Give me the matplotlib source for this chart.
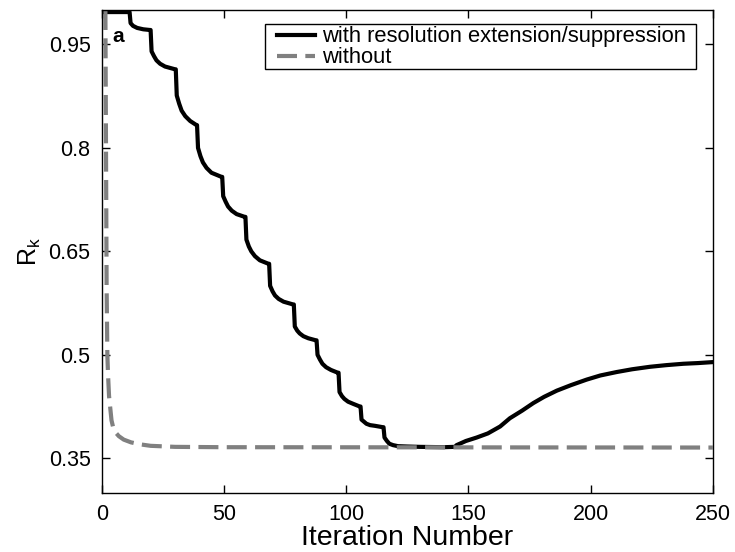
import numpy as np
import matplotlib
matplotlib.use('Agg')
from matplotlib import pyplot as plt
from matplotlib.patches import Rectangle

# black curve: with resolution extension/suppression
iter_with = [0, 11.4, 11.8, 12.8, 14.5, 17.0, 19.7,
             20.0, 20.4, 21.4, 22.4, 23.9, 25.9, 30.0,
             30.3, 30.7, 31.7, 32.7, 34.2, 36.2, 38.8,
             39.0, 39.4, 40.4, 41.4, 42.9, 44.9, 49.0,
             49.3, 49.7, 50.7, 51.7, 53.2, 55.2, 58.5,
             58.8, 59.2, 60.2, 61.2, 62.7, 64.7, 68.2,
             68.5, 68.9, 69.9, 70.9, 72.4, 74.4, 78.3,
             78.6, 79.0, 80.0, 81.0, 82.5, 84.5, 87.6,
             87.9, 88.3, 89.3, 90.3, 91.8, 93.8, 96.6,
             96.9, 97.3, 98.3, 99.3, 100.8, 102.8, 105.6,
             105.9, 106.3, 107.3, 108.3, 109.8, 111.8, 115.0,
             115.3, 115.7, 116.7, 117.7, 119.2, 121.2, 125.0, 130.0, 140.0, 144.5,
             145.2, 149.0, 153.4, 158.0, 163.0, 167.0, 172.0, 176.6, 181.0,
             186.2, 192.0, 198.4, 204.0, 210.7, 217.0, 224.3, 231.0, 238.0,
             244.0, 250.0]
r_with = [0.997, 0.997, 0.981, 0.977, 0.974, 0.972, 0.971,
          0.971, 0.940, 0.933, 0.927, 0.922, 0.918, 0.914,
          0.914, 0.876, 0.864, 0.854, 0.846, 0.839, 0.833,
          0.833, 0.800, 0.788, 0.779, 0.771, 0.764, 0.758,
          0.758, 0.730, 0.722, 0.715, 0.709, 0.704, 0.700,
          0.700, 0.667, 0.657, 0.650, 0.643, 0.637, 0.632,
          0.632, 0.600, 0.592, 0.586, 0.581, 0.577, 0.573,
          0.573, 0.541, 0.535, 0.531, 0.527, 0.524, 0.521,
          0.521, 0.500, 0.493, 0.487, 0.482, 0.478, 0.474,
          0.474, 0.446, 0.440, 0.436, 0.432, 0.429, 0.425,
          0.425, 0.406, 0.403, 0.400, 0.398, 0.397, 0.395,
          0.395, 0.380, 0.375, 0.371, 0.369, 0.3675, 0.367, 0.3665, 0.366, 0.3665,
          0.369, 0.375, 0.380, 0.386, 0.396, 0.408, 0.419, 0.430, 0.439,
          0.448, 0.456, 0.464, 0.470, 0.475, 0.479, 0.4826, 0.485, 0.487,
          0.488, 0.4894]

# grey dashed curve: without
iter_without = [1.5, 2.0, 2.3, 2.6, 3.0, 4.0, 5.0, 7.0, 9.0, 12.0, 16.0, 20.0, 30.0, 50.0, 250.0]
r_without = [1.0, 0.60, 0.50, 0.47, 0.44, 0.405, 0.39, 0.382, 0.377, 0.373, 0.370, 0.368, 0.3665, 0.366, 0.3655]

xticks = [0, 50, 100, 150, 200, 250]
yticks = [0.35, 0.5, 0.65, 0.8, 0.95]
ytick_labels = ['0.35', '0.5', '0.65', '0.8', '0.95']

plt.rcParams['font.family'] = ['Liberation Sans', 'DejaVu Sans']
plt.rcParams['mathtext.fontset'] = 'custom'
plt.rcParams['mathtext.rm'] = 'Liberation Sans'
plt.rcParams['mathtext.it'] = 'Liberation Sans'

fig = plt.figure(figsize=(7.35, 5.52), dpi=100)
ax = fig.add_axes([0.1384, 0.1074, 0.8313, 0.8745])

ax.plot(iter_with, r_with, color='black', lw=3, solid_joinstyle='round',
        label='with resolution extension/suppression')
ax.plot(iter_without, r_without, color='#808080', lw=3, dashes=(4.8, 2.0),
        label='without')

ax.set_xlim(0, 250)
ax.set_ylim(0.3, 1.0)
ax.set_xticks(xticks)
ax.set_yticks(yticks)
ax.set_yticklabels(ytick_labels)
ax.tick_params(direction='in', top=True, right=True, length=6, width=1,
               labelsize=15.5, pad=8)
for s in ax.spines.values():
    s.set_linewidth(1)

ax.set_xlabel('Iteration Number', fontsize=20.5, labelpad=0)
ax.set_ylabel(r'$\mathregular{R_k}$', fontsize=18, labelpad=4)

ax.text(0.017, 0.934, 'a', transform=ax.transAxes, fontsize=15, fontweight='bold',
        va='baseline')

# legend box drawn by hand (wider than the text, tight vertically)
box = Rectangle((0.267, 0.877), 0.9727 - 0.267, 0.971 - 0.877, transform=ax.transAxes,
                facecolor='white', edgecolor='black', lw=1, zorder=4)
ax.add_patch(box)
leg = ax.legend(loc='upper right', bbox_to_anchor=(0.958, 0.971), borderaxespad=0,
                fontsize=15.8, frameon=False, handlelength=1.73, handletextpad=0.3,
                labelspacing=0, borderpad=0.07, handleheight=0.5)
leg.set_zorder(5)

plt.savefig('out.png', dpi=100)
